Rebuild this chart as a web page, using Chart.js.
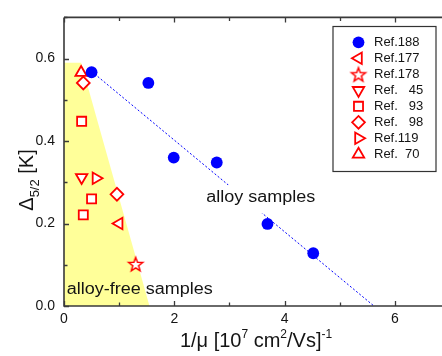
<!DOCTYPE html>
<html>
<head>
<meta charset="utf-8">
<script src="https://cdn.jsdelivr.net/npm/chart.js@4/dist/chart.umd.min.js"></script>
<style>
  html, body { margin: 0; padding: 0; background: #fff; overflow: hidden; width: 442px; height: 356px; }
  canvas { display: block; }
</style>
</head>
<body>
<canvas id="chart" width="470" height="356"></canvas>
<script>
// ---- data: [1/mu, Delta_5/2] pairs per reference ----
const ref188 = [[0.50, 0.567], [1.53, 0.541], [1.99, 0.360], [2.77, 0.348], [3.69, 0.199], [4.52, 0.128]];
const ref177 = [[1.00, 0.200]];
const ref178 = [[1.30, 0.102]];
const ref45  = [[0.32, 0.312]];
const ref93  = [[0.32, 0.448], [0.50, 0.260], [0.35, 0.221]];
const ref98  = [[0.35, 0.541], [0.96, 0.271]];
const ref119 = [[0.58, 0.310]];
const ref70  = [[0.31, 0.566]];

// linear trend through the alloy samples
const alloyTrend = [[0.50, 0.569], [5.62, 0.0]];
// shaded alloy-free region
const alloyFreeRegion = [[0, 0], [0, 0.59], [0.31, 0.59], [1.55, 0]];

// axes
const xTickValues = [0, 2, 4, 6];
const xTickLabels = ['0', '2', '4', '6'];
const yTickValues = [0, 0.2, 0.4, 0.6];
const yTickLabels = ['0.0', '0.2', '0.4', '0.6'];

const legendLabels = ['Ref.188', 'Ref.177', 'Ref.178', 'Ref.   45', 'Ref.   93', 'Ref.   98', 'Ref.119', 'Ref.  70'];

const FONT = "'Liberation Sans', Arial, Helvetica, sans-serif";
const RED = '#ff0000';
const BLUE = '#0000ff';
const INK = '#141414';
const AXIS = '#3a3a3a';

const toXY = arr => arr.map(([x, y]) => ({ x, y }));

// five-pointed open star used as a point style
function makeStar(r, color, lw) {
  const s = Math.ceil(2 * r + lw * 2 + 2);
  const cv = document.createElement('canvas');
  cv.width = s; cv.height = s;
  const c = cv.getContext('2d');
  c.translate(s / 2, s / 2 + 0.8);
  c.beginPath();
  for (let i = 0; i < 10; i++) {
    const rr = i % 2 ? r * 0.42 : r;
    const a = -Math.PI / 2 + i * Math.PI / 5;
    c.lineTo(rr * Math.cos(a), rr * Math.sin(a));
  }
  c.closePath();
  c.fillStyle = '#fff';
  c.fill();
  c.lineWidth = lw;
  c.strokeStyle = color;
  c.stroke();
  return cv;
}
const starImg = makeStar(7.4, RED, 1.5);

const markerStyles = [
  { pointStyle: 'circle',   rotation: 0,   radius: 5.9, fill: BLUE,   stroke: BLUE, borderWidth: 0 },
  { pointStyle: 'triangle', rotation: 270, radius: 6.6, fill: '#fff', stroke: RED,  borderWidth: 1.8 },
  { pointStyle: starImg,    rotation: 0,   radius: 7.4, fill: '#fff', stroke: RED,  borderWidth: 1.5 },
  { pointStyle: 'triangle', rotation: 180, radius: 6.6, fill: '#fff', stroke: RED,  borderWidth: 1.8 },
  { pointStyle: 'rect',     rotation: 0,   radius: 6.4, fill: '#fff', stroke: RED,  borderWidth: 1.8 },
  { pointStyle: 'rectRot',  rotation: 0,   radius: 6.4, fill: '#fff', stroke: RED,  borderWidth: 1.8 },
  { pointStyle: 'triangle', rotation: 90,  radius: 6.6, fill: '#fff', stroke: RED,  borderWidth: 1.8 },
  { pointStyle: 'triangle', rotation: 0,   radius: 6.6, fill: '#fff', stroke: RED,  borderWidth: 1.8 }
];
const seriesData = [ref188, ref177, ref178, ref45, ref93, ref98, ref119, ref70];

const markerDatasets = seriesData.map((d, i) => {
  const m = markerStyles[i];
  return {
    label: legendLabels[i],
    data: toXY(d),
    showLine: false,
    pointStyle: m.pointStyle,
    pointRotation: m.rotation,
    pointRadius: m.radius,
    pointHoverRadius: m.radius,
    pointBackgroundColor: m.fill,
    pointBorderColor: m.stroke,
    pointBorderWidth: m.borderWidth,
    order: 1
  };
});

// text with a slight horizontal stretch
function wideText(ctx, text, x, y, size, stretch) {
  ctx.save();
  ctx.font = size + 'px ' + FONT;
  ctx.translate(x, y);
  ctx.scale(stretch, 1);
  ctx.fillText(text, 0, 0);
  ctx.restore();
  ctx.font = size + 'px ' + FONT;
  return ctx.measureText(text).width * stretch;
}

// runs of normal / superscript / subscript text
function richText(ctx, parts, size, smallSize) {
  let w = 0;
  parts.forEach(p => { ctx.font = (p.s ? smallSize : size) + 'px ' + FONT; w += ctx.measureText(p.t).width; });
  return w;
}
function drawRich(ctx, parts, x, y, size, smallSize) {
  let cx = x;
  parts.forEach(p => {
    ctx.font = (p.s ? smallSize : size) + 'px ' + FONT;
    ctx.fillText(p.t, cx, y + (p.s || 0));
    cx += ctx.measureText(p.t).width;
  });
}

const decorations = {
  id: 'decorations',
  afterDatasetsDraw(chart) {
    const { ctx, chartArea: a, scales: { x, y } } = chart;
    ctx.save();
    ctx.fillStyle = INK;
    ctx.textBaseline = 'alphabetic';
    ctx.textAlign = 'left';

    // region labels
    const lx = x.getPixelForValue(2.58), ly = y.getPixelForValue(0.252);
    ctx.fillStyle = '#fff';
    ctx.fillRect(lx - 3, ly - 17, 116, 28);
    ctx.fillStyle = INK;
    wideText(ctx, 'alloy samples', lx, ly, 16, 1.125);
    wideText(ctx, 'alloy-free samples', x.getPixelForValue(0.05), y.getPixelForValue(0.030), 16, 1.125);

    // frame
    ctx.strokeStyle = AXIS;
    ctx.lineWidth = 1.6;
    ctx.beginPath();
    ctx.moveTo(a.left, a.top); ctx.lineTo(a.left, a.bottom); ctx.lineTo(a.right, a.bottom);
    ctx.moveTo(a.left, a.top); ctx.lineTo(a.right, a.top); ctx.lineTo(a.right, a.bottom);
    ctx.stroke();

    // inward tick marks
    ctx.lineWidth = 1.3;
    ctx.beginPath();
    for (let i = 0; i <= 7; i++) {
      const px = Math.round(x.getPixelForValue(i)) + 0.5;
      const len = i % 2 === 0 ? 5 : 3.5;
      ctx.moveTo(px, a.bottom); ctx.lineTo(px, a.bottom - len);
      ctx.moveTo(px, a.top); ctx.lineTo(px, a.top + len);
    }
    for (let i = 0; i <= 7; i++) {
      const py = Math.round(y.getPixelForValue(i / 10)) + 0.5;
      const len = i % 2 === 0 ? 5 : 3.5;
      ctx.moveTo(a.left, py); ctx.lineTo(a.left + len, py);
      ctx.moveTo(a.right, py); ctx.lineTo(a.right - len, py);
    }
    ctx.stroke();
    ctx.restore();
  },
  afterDraw(chart) {
    const { ctx, chartArea: a } = chart;
    ctx.save();
    ctx.fillStyle = INK;
    ctx.textAlign = 'left';
    ctx.textBaseline = 'alphabetic';

    // x title
    const xParts = [{ t: '1/\u03bc [10' }, { t: '7', s: -9 }, { t: ' cm' }, { t: '2', s: -9 }, { t: '/Vs]' }, { t: '-1', s: -9 }];
    const xw = richText(ctx, xParts, 20, 12);
    drawRich(ctx, xParts, 256 - xw / 2, 347, 20, 12);

    // y title, rotated
    const yParts = [{ t: '\u0394' }, { t: '5/2', s: 6 }, { t: ' [K]' }];
    const yw = richText(ctx, yParts, 20, 13);
    ctx.translate(33, 180);
    ctx.rotate(-Math.PI / 2);
    drawRich(ctx, yParts, -yw / 2, 0, 20, 13);
    ctx.restore();

    // legend box
    ctx.save();
    ctx.fillStyle = '#fff';
    ctx.fillRect(333, 26.5, 103, 145);
    ctx.strokeStyle = '#333';
    ctx.lineWidth = 1.2;
    ctx.strokeRect(333, 26.5, 103, 145);
    ctx.textBaseline = 'middle';
    ctx.textAlign = 'left';
    ctx.font = '13px ' + FONT;
    legendLabels.forEach((lab, i) => {
      const m = markerStyles[i];
      const ry = 42.3 + i * 16;
      ctx.fillStyle = m.fill;
      ctx.strokeStyle = m.stroke;
      ctx.lineWidth = m.borderWidth;
      if (Chart.helpers && Chart.helpers.drawPoint) {
        Chart.helpers.drawPoint(ctx, { pointStyle: m.pointStyle, rotation: m.rotation, radius: m.radius, borderWidth: m.borderWidth }, 358.5, ry);
      }
      ctx.fillStyle = INK;
      ctx.fillText(lab, 374, ry + 0.5);
    });
    ctx.restore();
  }
};

new Chart(document.getElementById('chart'), {
  type: 'scatter',
  data: {
    datasets: [
      {
        label: 'alloy-free region',
        data: toXY(alloyFreeRegion),
        showLine: true,
        fill: 'origin',
        backgroundColor: '#ffff99',
        borderColor: 'rgba(0,0,0,0)',
        borderWidth: 1,
        pointRadius: 0,
        pointHoverRadius: 0,
        tension: 0,
        order: 10
      },
      {
        label: 'trend',
        data: toXY(alloyTrend),
        showLine: true,
        borderColor: BLUE,
        borderWidth: 1,
        borderDash: [2, 2],
        pointRadius: 0,
        pointHoverRadius: 0,
        fill: false,
        order: 5
      },
      ...markerDatasets
    ]
  },
  options: {
    responsive: false,
    devicePixelRatio: 1,
    animation: false,
    events: [],
    layout: { padding: { left: 0, right: 20, top: 12, bottom: 0 } },
    plugins: { legend: { display: false }, tooltip: { enabled: false } },
    scales: {
      x: {
        type: 'linear',
        min: 0, max: 7,
        grid: { display: false, drawTicks: false },
        border: { display: false },
        afterBuildTicks: s => { s.ticks = xTickValues.map(v => ({ value: v })); },
        afterFit: s => { s.height = 50; },
        ticks: {
          padding: 5,
          color: INK,
          maxRotation: 0,
          font: { family: FONT, size: 14 },
          callback: (v, i) => xTickLabels[i]
        }
      },
      y: {
        type: 'linear',
        min: 0, max: 0.7,
        grid: { display: false, drawTicks: false },
        border: { display: false },
        afterBuildTicks: s => { s.ticks = yTickValues.map(v => ({ value: v })); },
        afterFit: s => { s.width = 64; },
        ticks: {
          padding: 9,
          color: INK,
          font: { family: FONT, size: 14 },
          callback: (v, i) => yTickLabels[i]
        }
      }
    }
  },
  plugins: [decorations]
});
</script>
</body>
</html>
